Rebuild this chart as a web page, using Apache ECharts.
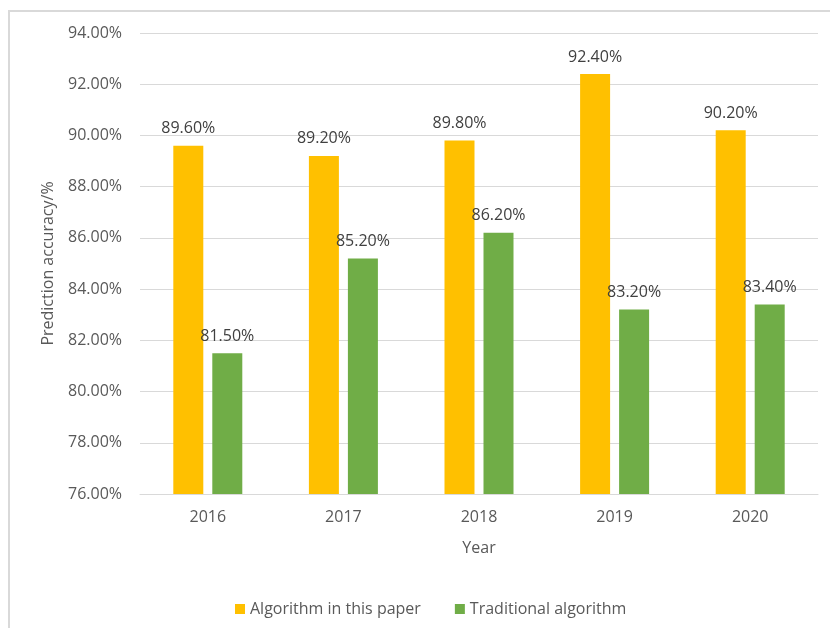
<!DOCTYPE html>
<html>
<head>
<meta charset="utf-8">
<script src="https://cdn.jsdelivr.net/npm/echarts@6/dist/echarts.min.js"></script>
<style>
  html, body { margin: 0; padding: 0; background: #fff; }
  #chart { width: 830px; height: 628px; }
</style>
</head>
<body>
<div id="chart"></div>
<script>
const years = ["2016", "2017", "2018", "2019", "2020"];
const paperAlgo = [89.6, 89.2, 89.8, 92.4, 90.2];
const traditionalAlgo = [81.5, 85.2, 86.2, 83.2, 83.4];
const seriesNames = ["Algorithm in this paper", "Traditional algorithm"];

const font = "'Open Sans', 'Liberation Sans', sans-serif";
const chart = echarts.init(document.getElementById("chart"));

const labelStyle = {
  show: true,
  position: "top",
  distance: 9,
  color: "#404040",
  fontSize: 16,
  fontFamily: font,
  formatter: p => p.value.toFixed(2) + "%"
};

chart.setOption({
  animation: false,
  graphic: [
    {
      type: "rect",
      shape: { x: 9, y: 11, width: 900, height: 700 },
      style: { fill: "none", stroke: "#d9d9d9", lineWidth: 2 },
      silent: true
    }
  ],
  grid: { left: 140, right: 12, top: 33, bottom: 134 },
  legend: {
    data: seriesNames,
    left: 230,
    top: 596,
    icon: "rect",
    itemWidth: 10,
    itemHeight: 10,
    itemGap: 34,
    textStyle: { color: "#595959", fontSize: 16, fontFamily: font }
  },
  xAxis: {
    type: "category",
    data: years,
    name: "Year",
    nameLocation: "middle",
    nameGap: 46,
    nameTextStyle: { color: "#595959", fontSize: 16, fontFamily: font },
    axisLine: { lineStyle: { color: "#d9d9d9", width: 1 } },
    axisTick: { show: false },
    axisLabel: { color: "#595959", fontSize: 16, fontFamily: font, margin: 15 }
  },
  yAxis: {
    type: "value",
    min: 76,
    max: 94,
    interval: 2,
    name: "Prediction accuracy/%",
    nameLocation: "middle",
    nameGap: 84,
    nameTextStyle: { color: "#595959", fontSize: 16, fontFamily: font },
    axisLine: { show: false },
    axisTick: { show: false },
    axisLabel: {
      color: "#595959",
      fontSize: 16,
      fontFamily: font,
      margin: 18,
      formatter: v => v.toFixed(2) + "%"
    },
    splitLine: { lineStyle: { color: "#d9d9d9", width: 1 } }
  },
  series: [
    {
      name: seriesNames[0],
      type: "bar",
      data: paperAlgo,
      barWidth: 30,
      barGap: "30%",
      itemStyle: { color: "#FFC000" },
      label: labelStyle
    },
    {
      name: seriesNames[1],
      type: "bar",
      data: traditionalAlgo,
      barWidth: 30,
      barGap: "30%",
      itemStyle: { color: "#70AD47" },
      label: labelStyle
    }
  ]
});
</script>
</body>
</html>
